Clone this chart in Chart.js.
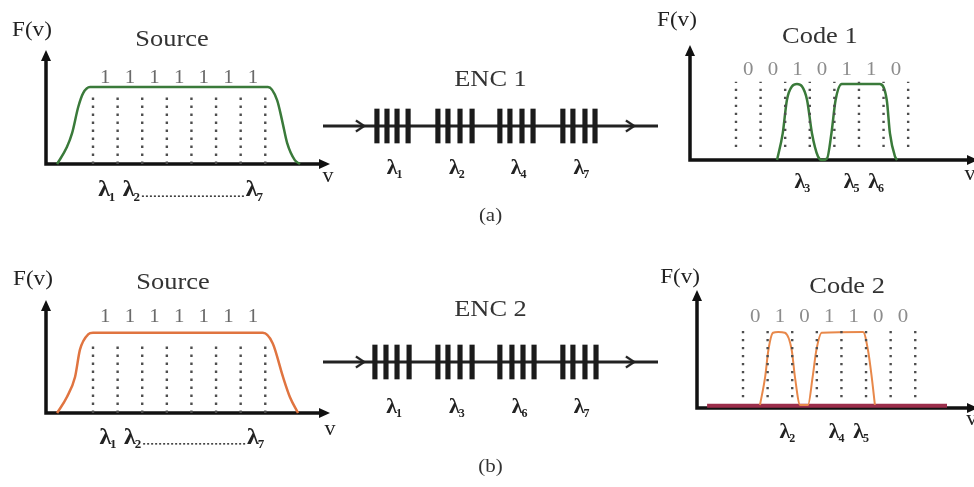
<!DOCTYPE html>
<html>
<head>
<meta charset="utf-8">
<script src="https://cdn.jsdelivr.net/npm/chart.js@4.4.0/dist/chart.umd.min.js"></script>
<style>
  html, body { margin: 0; padding: 0; background: #fff; overflow: hidden; }
  #wrap { position: relative; width: 974px; height: 487px; overflow: hidden; }
  canvas { position: absolute; }
</style>
</head>
<body>
<div id="wrap">
  <canvas id="srcA" width="345" height="230" style="left:0;top:0"></canvas>
  <canvas id="srcB" width="345" height="230" style="left:0;top:250px"></canvas>
  <canvas id="encA" width="360" height="170" style="left:310px;top:60px"></canvas>
  <canvas id="encB" width="360" height="190" style="left:310px;top:290px"></canvas>
  <canvas id="codeA" width="345" height="230" style="left:640px;top:0"></canvas>
  <canvas id="codeB" width="345" height="230" style="left:640px;top:250px"></canvas>
</div>
<script>
// spectral slots (edges between the 7 wavelength channels) and bit patterns
const channelEdges = [0, 1, 2, 3, 4, 5, 6, 7];
const sourceBits = [1, 1, 1, 1, 1, 1, 1];
const code1Bits = [0, 0, 1, 0, 1, 1, 0];
const code2Bits = [0, 1, 0, 1, 1, 0, 0];

// broadband source spectra, (frequency in channel units, amplitude)
const sourceACurve = [
  {x: -1.46, y: 0}, {x: -1.06, y: 0.22}, {x: -0.85, y: 0.4}, {x: -0.6, y: 0.74},
  {x: -0.4, y: 0.92}, {x: -0.12, y: 1}, {x: 7.11, y: 1}, {x: 7.48, y: 0.83},
  {x: 7.68, y: 0.57}, {x: 7.89, y: 0.27}, {x: 8.2, y: 0.05}, {x: 8.41, y: 0}
];
const sourceBCurve = [
  {x: -1.46, y: 0}, {x: -1.06, y: 0.2}, {x: -0.73, y: 0.45}, {x: -0.53, y: 0.79},
  {x: -0.2, y: 0.98}, {x: 0, y: 1}, {x: 6.9, y: 1}, {x: 7.3, y: 0.87},
  {x: 7.72, y: 0.45}, {x: 8.0, y: 0.2}, {x: 8.33, y: 0}
];

// encoded spectra after each encoder
const code1Curve = [
  {x: 1.67, y: 0}, {x: 1.9, y: 0.35}, {x: 2.07, y: 0.79}, {x: 2.28, y: 0.97},
  {x: 2.48, y: 1}, {x: 2.68, y: 0.97}, {x: 2.89, y: 0.79}, {x: 3.09, y: 0.35},
  {x: 3.33, y: 0.05}, {x: 3.5, y: 0}, {x: 3.7, y: 0.02}, {x: 3.88, y: 0.35},
  {x: 4.05, y: 0.79}, {x: 4.3, y: 1}, {x: 5.85, y: 1}, {x: 6.13, y: 0.79},
  {x: 6.26, y: 0.35}, {x: 6.46, y: 0.05}, {x: 6.55, y: 0}
];
const code2Curve = [
  {x: 0.69, y: 0.04}, {x: 0.9, y: 0.41}, {x: 1.03, y: 0.76}, {x: 1.22, y: 0.99},
  {x: 1.43, y: 1}, {x: 1.7, y: 0.99}, {x: 1.98, y: 0.76}, {x: 2.11, y: 0.41},
  {x: 2.32, y: 0.04}, {x: 2.64, y: 0.04}, {x: 2.83, y: 0.41}, {x: 2.98, y: 0.76},
  {x: 3.2, y: 0.99}, {x: 4.88, y: 1}, {x: 5.08, y: 0.76}, {x: 5.23, y: 0.41},
  {x: 5.36, y: 0.04}
];
const code2Floor = [{x: -1.46, y: 0.03}, {x: 8.29, y: 0.03}];

// wavelength labels under each spectrum (channel numbers)
const sourceLambdas = [1, 2, 7];
const code1Lambdas = [3, 5, 6];
const code2Lambdas = [2, 4, 5];

// encoder gratings along the fibre, four per blocked wavelength
const enc1Gratings = [
  [1.61, 1.91, 2.21, 2.54], [3.43, 3.73, 4.09, 4.45],
  [5.28, 5.58, 5.94, 6.27], [7.16, 7.46, 7.82, 8.12]
];
const enc2Gratings = [
  [1.55, 1.88, 2.21, 2.57], [3.43, 3.73, 4.09, 4.45],
  [5.28, 5.64, 5.97, 6.3], [7.16, 7.46, 7.82, 8.15]
];
const enc1Lambdas = [1, 2, 4, 7];
const enc2Lambdas = [1, 3, 6, 7];
const fibreSpan = [0, 10];
const fibreArrows = [1.1, 9.16];

const SERIF = '"Liberation Serif", "Times New Roman", serif';

function drawLambda(ctx, x, y, sub, size) {
  ctx.font = 'bold ' + size + 'px ' + SERIF;
  const w = ctx.measureText('λ').width;
  ctx.textAlign = 'center';
  ctx.textBaseline = 'middle';
  ctx.fillText('λ', x, y);
  ctx.font = 'bold ' + Math.round(size * 0.55) + 'px ' + SERIF;
  ctx.textAlign = 'left';
  ctx.fillText(String(sub), x + w * 0.4, y + size * 0.3);
  return {left: x - w / 2, right: x + w * 0.4 + ctx.measureText(String(sub)).width};
}

// serif text, slightly widened like the original lettering
function drawText(ctx, text, x, y, size, color) {
  ctx.save();
  ctx.font = size + 'px ' + SERIF;
  ctx.fillStyle = color;
  ctx.textAlign = 'center';
  ctx.textBaseline = 'middle';
  ctx.translate(x, y);
  ctx.scale(1.1, 1);
  ctx.fillText(text, 0, 0);
  ctx.restore();
}

function arrowHead(ctx, x, y, dx, dy) {
  const len = 11, half = 5;
  ctx.beginPath();
  ctx.moveTo(x, y);
  ctx.lineTo(x - dx * len - dy * half, y - dy * len + dx * half);
  ctx.lineTo(x - dx * len + dy * half, y - dy * len - dx * half);
  ctx.closePath();
  ctx.fill();
}

// axes with arrows, titles, bit values and wavelength labels of a spectrum panel
function spectrumDecor(p) {
  return {
    id: 'spectrumDecor',
    beforeDatasetsDraw(chart) {
      const {ctx, chartArea: a} = chart;
      const y0 = chart.scales.y.getPixelForValue(0);
      ctx.save();
      ctx.strokeStyle = '#111';
      ctx.fillStyle = '#111';
      ctx.lineWidth = 3.5;
      ctx.beginPath();
      ctx.moveTo(a.left, y0 + 1.75);
      ctx.lineTo(a.left, a.top + 8);
      ctx.moveTo(a.left, y0);
      ctx.lineTo(a.right - 8, y0);
      ctx.stroke();
      arrowHead(ctx, a.left, a.top, 0, -1);
      arrowHead(ctx, a.right, y0, 1, 0);
      ctx.restore();
    },
    afterDraw(chart) {
      const {ctx} = chart;
      const xs = chart.scales.x, ys = chart.scales.y;
      ctx.save();
      drawText(ctx, 'F(v)', xs.getPixelForValue(p.fLabel[0]), ys.getPixelForValue(p.fLabel[1]), 21, '#222');
      drawText(ctx, p.title, xs.getPixelForValue(p.titlePos[0]), ys.getPixelForValue(p.titlePos[1]), 24, '#333');
      drawText(ctx, 'v', xs.getPixelForValue(p.vLabel[0]), ys.getPixelForValue(p.vLabel[1]), 20, '#222');
      p.bits.forEach((b, i) => {
        drawText(ctx, String(b), xs.getPixelForValue(i + 0.5), ys.getPixelForValue(p.bitsY), 19, p.bitColor);
      });
      ctx.fillStyle = '#222';
      const ly = ys.getPixelForValue(p.lambdaY);
      const boxes = p.lambdas.map(n =>
        drawLambda(ctx, xs.getPixelForValue(n - 0.5 + p.lambdaShift), ly, n, p.lambdaSize));
      if (p.gap) {
        ctx.strokeStyle = '#333';
        ctx.lineWidth = 1.5;
        ctx.setLineDash([2, 2]);
        ctx.beginPath();
        ctx.moveTo(boxes[1].right + 2, ly + p.lambdaSize * 0.25);
        ctx.lineTo(boxes[2].left - 1, ly + p.lambdaSize * 0.25);
        ctx.stroke();
      }
      ctx.restore();
    }
  };
}

function spectrumPanel(id, p) {
  const datasets = channelEdges.map(e => ({
    type: 'line',
    data: [{x: e, y: p.dotSpan[0]}, {x: e, y: p.dotSpan[1]}],
    borderColor: '#4e4e4e',
    borderWidth: 2.4,
    borderDash: [2.4, 5.6],
    pointRadius: 0,
    clip: false
  }));
  datasets.push({
    type: 'line',
    data: p.curve,
    borderColor: p.color,
    borderWidth: p.width,
    cubicInterpolationMode: 'monotone',
    pointRadius: 0,
    clip: false
  });
  if (p.floor) {
    datasets.push({
      type: 'line',
      data: p.floor,
      borderColor: '#9b2d4b',
      borderWidth: 4,
      pointRadius: 0,
      clip: false
    });
  }
  new Chart(document.getElementById(id), {
    type: 'line',
    data: {datasets},
    options: {
      responsive: false,
      animation: false,
      events: [],
      layout: {padding: p.pad},
      scales: {
        x: {type: 'linear', display: false, min: p.xRange[0], max: p.xRange[1]},
        y: {type: 'linear', display: false, min: 0, max: p.yMax}
      },
      plugins: {legend: {display: false}, tooltip: {enabled: false}}
    },
    plugins: [spectrumDecor(p)]
  });
}

function chevron() {
  const c = document.createElement('canvas');
  c.width = 12;
  c.height = 14;
  const g = c.getContext('2d');
  g.strokeStyle = '#222';
  g.lineWidth = 2.2;
  g.beginPath();
  g.moveTo(2, 1.5);
  g.lineTo(10.5, 7);
  g.lineTo(2, 12.5);
  g.stroke();
  return c;
}

function encoderPanel(id, p) {
  const bars = p.gratings.flat().map(x => ({x, y: [-1, 1]}));
  const centres = p.gratings.map(g => g.reduce((s, v) => s + v, 0) / g.length);
  new Chart(document.getElementById(id), {
    type: 'bar',
    data: {
      datasets: [
        {type: 'bar', data: bars, backgroundColor: '#1b1b1b', barThickness: 4.5},
        {type: 'line', data: fibreArrows.map(x => ({x, y: 0})), showLine: false,
         pointStyle: chevron(), pointRadius: 6, clip: false},
        {type: 'line', data: fibreSpan.map(x => ({x, y: 0})), borderColor: '#222',
         borderWidth: 3, pointRadius: 0, clip: false}
      ]
    },
    options: {
      responsive: false,
      animation: false,
      events: [],
      layout: {padding: p.pad},
      scales: {
        x: {type: 'linear', display: false, offset: false, min: 0, max: 10},
        y: {type: 'linear', display: false, min: -2, max: 2}
      },
      plugins: {legend: {display: false}, tooltip: {enabled: false}}
    },
    plugins: [{
      id: 'encoderDecor',
      afterDraw(chart) {
        const {ctx} = chart;
        const xs = chart.scales.x, ys = chart.scales.y;
        ctx.save();
        drawText(ctx, p.title, xs.getPixelForValue(5), ys.getPixelForValue(p.titleY), 24, '#333');
        drawText(ctx, p.caption, xs.getPixelForValue(5), ys.getPixelForValue(p.captionY), 19, '#333');
        ctx.fillStyle = '#222';
        p.lambdas.forEach((n, i) => {
          drawLambda(ctx, xs.getPixelForValue(centres[i]), ys.getPixelForValue(p.lambdaY), n, 22);
        });
        ctx.restore();
      }
    }]
  });
}

spectrumPanel('srcA', {
  curve: sourceACurve, color: '#3a7a3a', width: 2.5, bits: sourceBits, bitColor: '#6a6a6a',
  title: 'Source', titlePos: [3.21, 1.61], fLabel: [-2.48, 1.73], vLabel: [9.55, -0.16],
  bitsY: 1.12, lambdaY: -0.34, lambdas: sourceLambdas, lambdaShift: -0.05, lambdaSize: 24, gap: true,
  dotSpan: [0, 0.9], pad: {left: 46, right: 15, top: 50, bottom: 66},
  xRange: [-1.91, 9.63], yMax: 1.48
});

spectrumPanel('srcB', {
  curve: sourceBCurve, color: '#e07440', width: 2.5, bits: sourceBits, bitColor: '#6a6a6a',
  title: 'Source', titlePos: [3.25, 1.63], fLabel: [-2.44, 1.66], vLabel: [9.63, -0.21],
  bitsY: 1.2, lambdaY: -0.31, lambdas: sourceLambdas, lambdaShift: 0, lambdaSize: 24, gap: true,
  dotSpan: [0, 0.85], pad: {left: 46, right: 15, top: 50, bottom: 67},
  xRange: [-1.91, 9.63], yMax: 1.41
});

spectrumPanel('codeA', {
  curve: code1Curve, color: '#3a7a3a', width: 2.5, bits: code1Bits, bitColor: '#8c8c8c',
  title: 'Code 1', titlePos: [3.41, 1.62], fLabel: [-2.4, 1.84], vLabel: [9.51, -0.2],
  bitsY: 1.18, lambdaY: -0.3, lambdas: code1Lambdas, lambdaShift: 0.1, lambdaSize: 22, gap: false,
  dotSpan: [0.17, 1.03], pad: {left: 50, right: 7, top: 45, bottom: 70},
  xRange: [-1.87, 9.84], yMax: 1.513
});

spectrumPanel('codeB', {
  curve: code2Curve, color: '#e8884a', width: 2, bits: code2Bits, bitColor: '#8c8c8c', floor: code2Floor,
  title: 'Code 2', titlePos: [4.23, 1.59], fLabel: [-2.56, 1.72], vLabel: [9.3, -0.16],
  bitsY: 1.2, lambdaY: -0.32, lambdas: code2Lambdas, lambdaShift: 0.2, lambdaSize: 22, gap: false,
  dotSpan: [0.14, 1.03], pad: {left: 57, right: 7, top: 40, bottom: 72},
  xRange: [-1.87, 9.55], yMax: 1.553
});

encoderPanel('encA', {
  gratings: enc1Gratings, lambdas: enc1Lambdas, title: 'ENC 1', caption: '(a)',
  titleY: 2.7, captionY: -5.3, lambdaY: -2.47,
  pad: {left: 13, right: 12, top: 32, bottom: 70}
});

encoderPanel('encB', {
  gratings: enc2Gratings, lambdas: enc2Lambdas, title: 'ENC 2', caption: '(b)',
  titleY: 3.1, captionY: -6.2, lambdaY: -2.65,
  pad: {left: 13, right: 12, top: 38, bottom: 84}
});
</script>
</body>
</html>
